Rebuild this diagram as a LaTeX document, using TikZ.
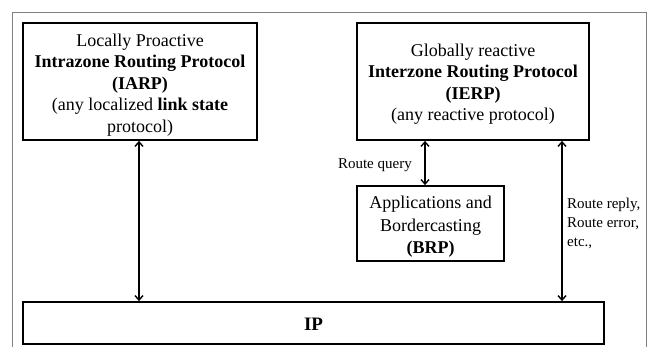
\documentclass[tikz,border=0pt]{standalone}
\usepackage{fontspec}
\setmainfont{Liberation Serif}
\usetikzlibrary{arrows.meta}
\begin{document}
\begin{tikzpicture}[x=1pt,y=-1pt,
  box/.style={draw=black,line width=1.8pt,rectangle,inner sep=0pt},
  boxtext/.style={inner sep=0pt,align=center,font=\fontsize{18}{21.5}\selectfont},
  arr/.style={line width=1.4pt,{Straight Barb[length=4.5pt,width=8pt]}-{Straight Barb[length=4.5pt,width=8pt]}},
  lab/.style={inner sep=0pt,font=\fontsize{15}{19}\selectfont}]
\useasboundingbox (0,0) rectangle (647,347);
\fill[white] (0,0) rectangle (647,347);
\draw[gray,line width=1pt] (12.5,347) -- (12.5,12.5) -- (646,12.5) -- (646,347);
\node[box,minimum width=234pt,minimum height=117pt] (iarp) at (140,81.5) {};
\node[boxtext] (iarpt) at (140,85)
  {Locally Proactive\\\textbf{Intrazone Routing Protocol}\\\textbf{(IARP)}\\(any localized \textbf{link state}\\protocol)};
\node[box,minimum width=232pt,minimum height=117pt] (ierp) at (473,81.5) {};
\node[boxtext] (ierpt) at (473,84)
  {Globally reactive\\\textbf{Interzone Routing Protocol}\\\textbf{(IERP)}\\(any reactive protocol)};
\node[box,minimum width=147pt,minimum height=75pt] (brp) at (430.5,223.5) {};
\node[boxtext,font=\fontsize{18}{22.5}\selectfont] (brpt) at (430.5,227)
  {Applications and\\Bordercasting\\\textbf{(BRP)}};
\node[box,minimum width=581pt,minimum height=42pt] (ip) at (313.5,323) {};
\node[boxtext,font=\fontsize{19}{22}\selectfont\bfseries] (ipt) at (313.5,324) {IP};
\coordinate (qx) at (425,0);
\coordinate (rx) at (562,0);
\draw[arr] (iarp.south -| 139,0) -- (ip.north -| 139,0);
\draw[arr] (ierp.south -| qx) -- (brp.north -| qx);
\draw[arr] (ierp.south -| rx) -- (ip.north -| rx);
\node[lab,anchor=east] (rq) at (412,165) {Route query};
\node[lab,anchor=north west,align=left] (rr) at (567,198) {Route reply,\\Route error,\\etc.,};
\end{tikzpicture}
\end{document}
